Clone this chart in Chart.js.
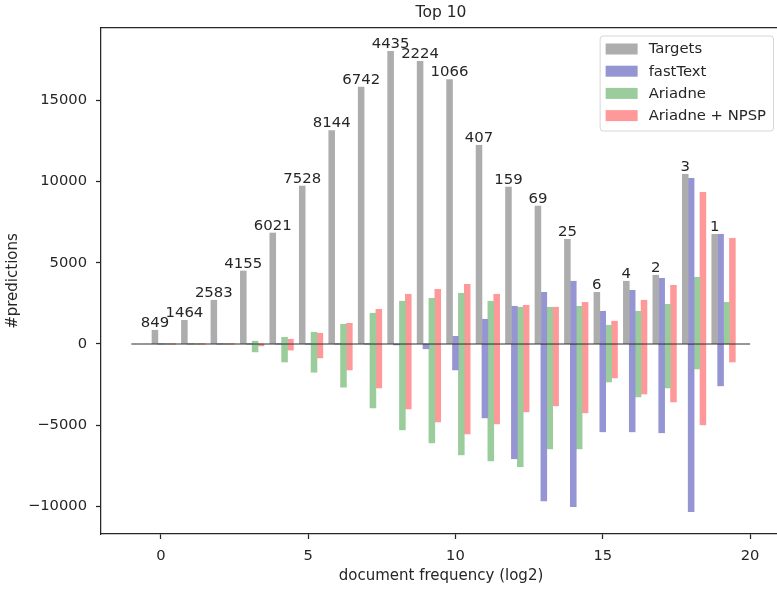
<!DOCTYPE html>
<html>
<head>
<meta charset="utf-8">
<title>Top 10</title>
<script src="https://cdn.jsdelivr.net/npm/chart.js@4"></script>
<style>
  html, body { margin: 0; padding: 0; overflow: hidden; background: #fff; }
  canvas { display: block; }
</style>
</head>
<body>
<canvas id="chart" width="790" height="589"></canvas>
<script>
"use strict";

// document frequency bins (log2)
const bins = [0, 1, 2, 3, 4, 5, 6, 7, 8, 9, 10, 11, 12, 13, 14, 15, 16, 17, 18, 19];
// numbers printed above the Targets bars
const docCounts = [849, 1464, 2583, 4155, 6021, 7528, 8144, 6742, 4435, 2224,
                   1066, 407, 159, 69, 25, 6, 4, 2, 3, 1];

const targets = [843, 1458, 2690, 4490, 6830, 9720, 13140, 15810, 18020, 17400,
                 16280, 12220, 9660, 8490, 6440, 3180, 3860, 4230, 10440, 6750];

const fastTextPos = [0, 0, 0, 0, 0, 0, 0, 0, 0, 0,
                     470, 1520, 2320, 3180, 3860, 2010, 3300, 4040, 10190, 6750];
const fastTextNeg = [0, 0, 0, 0, 0, 0, 0, 0, -60, -300,
                     -1600, -4550, -7070, -9660, -10020, -5410, -5410, -5470, -10330, -2580];

const ariadnePos = [0, 0, 0, 170, 410, 720, 1210, 1890, 2630, 2810,
                    3120, 2630, 2260, 2260, 2320, 1150, 2010, 2440, 4100, 2560];
const ariadneNeg = [0, 0, 0, -490, -1110, -1740, -2660, -3940, -5290, -6090,
                    -6830, -7200, -7560, -6460, -6460, -2340, -3260, -2710, -1540, 0];

const npspPos = [0, 0, 0, 0, 290, 660, 1270, 2130, 3060, 3360,
                 3670, 3060, 2380, 2260, 2560, 1400, 2690, 3610, 9330, 6500];
const npspNeg = [0, 0, 0, -120, -380, -860, -1600, -2710, -4000, -4800,
                 -5540, -4920, -4180, -3810, -4240, -2090, -3080, -3570, -4980, -1110];

const xTicks = [0, 5, 10, 15, 20];
const yTicks = [-10000, -5000, 0, 5000, 10000, 15000];
const zeroLineX = [-1, 20];

const ink = '#262626';
const fontFamily = 'DejaVu Sans';
Chart.defaults.font.family = fontFamily;
Chart.defaults.color = ink;

function barSet(label, values, offset, color, inLegend) {
  return {
    type: 'bar',
    label: label,
    order: 1,
    inLegend: inLegend,
    backgroundColor: color,
    borderWidth: 0,
    grouped: false,
    categoryPercentage: 1,
    barPercentage: 1,
    data: bins.map((b, i) => ({x: b + offset, y: values[i]}))
  };
}

const datasets = [
  barSet('Targets', targets, -0.2, '#adadad', true),
  barSet('fastText', fastTextPos, 0, '#9595d3', true),
  barSet('Ariadne', ariadnePos, 0.2, '#9bcc9b', true),
  barSet('Ariadne + NPSP', npspPos, 0.4, '#ff9999', true),
  barSet('fastText', fastTextNeg, 0, '#9595d3', false),
  barSet('Ariadne', ariadneNeg, 0.2, '#9bcc9b', false),
  barSet('Ariadne + NPSP', npspNeg, 0.4, '#ff9999', false),
  {
    type: 'line',
    label: 'zero',
    order: 0,
    inLegend: false,
    borderColor: 'rgba(0,0,0,0.55)',
    borderWidth: 1.5,
    pointRadius: 0,
    data: zeroLineX.map(x => ({x: x, y: 0}))
  }
];

// numbers above the Targets bars
const targetLabels = {
  id: 'targetLabels',
  afterDatasetsDraw(chart) {
    const ctx = chart.ctx;
    const meta = chart.getDatasetMeta(0);
    ctx.save();
    ctx.font = '14.9px "' + fontFamily + '"';
    ctx.fillStyle = ink;
    ctx.textAlign = 'center';
    ctx.textBaseline = 'alphabetic';
    meta.data.forEach((el, i) => {
      ctx.fillText(String(docCounts[i]), el.x, el.y - 3);
    });
    ctx.restore();
  }
};

// matplotlib style framed legend in the upper right corner
const boxLegend = {
  id: 'boxLegend',
  afterDraw(chart) {
    const ctx = chart.ctx;
    const area = chart.chartArea;
    const items = chart.data.datasets.filter(d => d.inLegend);
    ctx.save();
    ctx.font = '14.8px "' + fontFamily + '"';
    let textW = 0;
    for (const d of items) textW = Math.max(textW, ctx.measureText(d.label).width);
    const w = 6 + 32 + 11 + textW + 7;
    const h = 95;
    const right = area.right - 8;
    const left = right - w;
    const top = area.top + 7.5;
    ctx.beginPath();
    ctx.roundRect(left + 0.5, top + 0.5, w, h, 3);
    ctx.fillStyle = 'rgba(255,255,255,0.8)';
    ctx.fill();
    ctx.strokeStyle = 'rgba(204,204,204,0.8)';
    ctx.lineWidth = 1;
    ctx.stroke();
    ctx.textAlign = 'left';
    ctx.textBaseline = 'middle';
    items.forEach((d, i) => {
      const cy = top + 13.5 + i * 22.2;
      ctx.fillStyle = d.backgroundColor;
      ctx.fillRect(left + 6, cy - 5.5, 32, 11);
      ctx.fillStyle = ink;
      ctx.fillText(d.label, left + 49, cy + 0.5);
    });
    ctx.restore();
  }
};

const tickFont = {size: 14.7};
const labelFont = {size: 15};

new Chart(document.getElementById('chart'), {
  type: 'bar',
  data: {datasets: datasets},
  options: {
    responsive: false,
    animation: false,
    layout: {padding: {right: 9}},
    plugins: {
      legend: {display: false},
      tooltip: {enabled: false}
    },
    scales: {
      x: {
        type: 'linear',
        position: 'bottom',
        min: -2.03,
        max: 21.05,
        bounds: 'data',
        offset: false,
        grid: {display: true, offset: false, drawOnChartArea: false, drawTicks: true,
               tickLength: 5, tickColor: ink, tickWidth: 1.25},
        border: {display: true, color: ink, width: 1.25},
        ticks: {font: tickFont, color: ink, padding: 8, maxRotation: 0, autoSkip: false},
        afterBuildTicks: s => { s.ticks = xTicks.map(v => ({value: v})); },
        afterFit: s => { s.height = 55; },
        title: {display: true, text: 'document frequency (log2)', font: labelFont,
                color: ink, padding: {top: 0, bottom: 4}}
      },
      xTop: {
        type: 'linear',
        axis: 'x',
        position: 'top',
        min: -2.03,
        max: 21.05,
        bounds: 'data',
        offset: false,
        grid: {display: false, offset: false, drawTicks: false},
        border: {display: true, color: ink, width: 1.25},
        ticks: {display: false},
        afterFit: s => { s.height = 28; },
        title: {display: true, text: 'Top 10', font: {size: 15.5}, color: ink,
                padding: {top: 4, bottom: 6}}
      },
      y: {
        type: 'linear',
        min: -11700,
        max: 19450,
        bounds: 'data',
        grid: {display: true, drawOnChartArea: false, drawTicks: true,
               tickLength: 5, tickColor: ink, tickWidth: 1.25},
        border: {display: true, color: ink, width: 1.25},
        ticks: {font: tickFont, color: ink, padding: 9, autoSkip: false,
                callback: v => String(v).replace('-', '\u2212')},
        afterBuildTicks: s => { s.ticks = yTicks.map(v => ({value: v})); },
        afterFit: s => { s.width = 101; },
        title: {display: true, text: '#predictions', font: labelFont, color: ink,
                padding: {top: 4, bottom: 0}}
      }
    }
  },
  plugins: [targetLabels, boxLegend]
});
</script>
</body>
</html>
